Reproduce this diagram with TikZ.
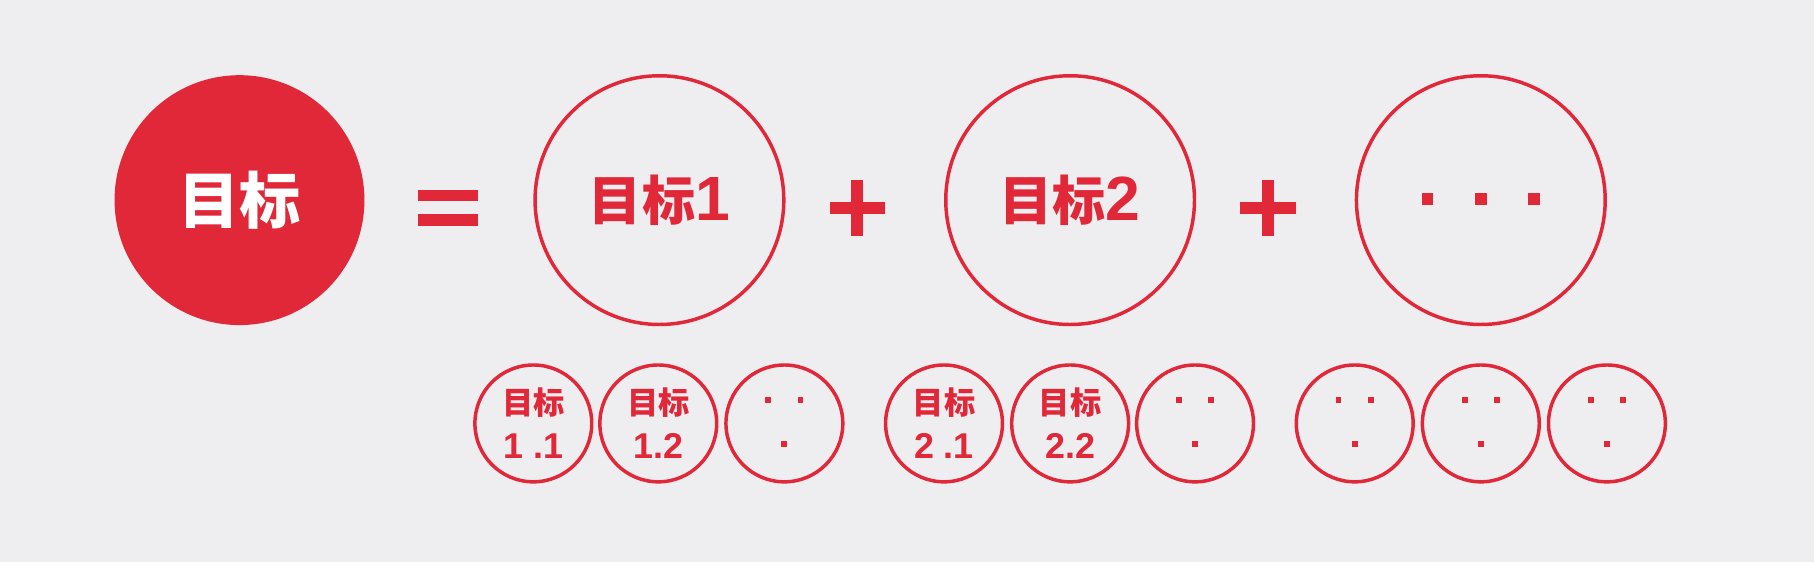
\documentclass[tikz,border=0pt]{standalone}
\usepackage{fontspec}
\newfontfamily\cjk{Noto Sans CJK SC}
\newfontfamily\lat{Liberation Sans}
\definecolor{goalred}{RGB}{224,40,57}
\definecolor{paper}{RGB}{238,237,240}
\newcommand\bignum[1]{{\lat\bfseries\fontsize{54}{54}\selectfont #1}}
\newcommand\subnum[1]{{\lat\bfseries\fontsize{31}{31}\selectfont #1}}
\tikzset{
  goalfill/.style={circle, fill=goalred, minimum size=216pt, inner sep=0pt,
    text=white, font=\cjk\bfseries\fontsize{53}{60}\selectfont},
  goalring/.style={circle, draw=goalred, line width=3pt, minimum size=215pt, inner sep=0pt,
    text=goalred, font=\cjk\bfseries\fontsize{46}{52}\selectfont},
  subring/.style={circle, draw=goalred, line width=3pt, minimum size=101pt, inner sep=0pt,
    text=goalred, align=center, font=\cjk\bfseries\fontsize{27}{38}\selectfont},
  bar/.style={fill=goalred, draw=none}
}
\begin{document}
\begin{tikzpicture}[x=1pt,y=1pt]
                \useasboundingbox (0,0) rectangle (1568,486);
                \fill [paper] (0,0) rectangle (1568,486);

                % Drawing goal and its parts
                \node [goalfill] (goal) at (207,313) {目标};
                \node [goalring] (goalA) at (570,313) {目标\bignum{1}};
                \node [goalring] (goalB) at (925,313) {目标\bignum{2}};
                \node [goalring] (goalC) at (1280,313) {};

                % Drawing equal sign
                \fill [bar] (361,312) rectangle (413,322);%
                \fill [bar] (361,291) rectangle (413,301);%

                % Drawing plus signs
                \fill [bar] (717,301) rectangle (765,311);%
                \fill [bar] (736,282) rectangle (746,330);%
                \fill [bar] (1072,301) rectangle (1120,311);%
                \fill [bar] (1091,282) rectangle (1101,330);%

                % Marking dots in goal C
                \fill [bar] (1229,309) rectangle (1239,319);%
                \fill [bar] (1275,309) rectangle (1285,319);%
                \fill [bar] (1321,309) rectangle (1331,319);%

                % Drawing sub goals of goal 1
                \node [subring] (subA1) at (461,120) {目标\\\subnum{1 .1}};
                \node [subring] (subA2) at (569,120) {目标\\\subnum{1.2}};
                \node [subring] (subA3) at (678,120) {};

                % Drawing sub goals of goal 2
                \node [subring] (subB1) at (816,120) {目标\\\subnum{2 .1}};
                \node [subring] (subB2) at (925,120) {目标\\\subnum{2.2}};
                \node [subring] (subB3) at (1033,120) {};

                % Drawing sub goals of the rest
                \node [subring] (subC1) at (1171,120) {};
                \node [subring] (subC2) at (1280,120) {};
                \node [subring] (subC3) at (1389,120) {};

                % Marking dots in open sub goals
                \fill [bar] ([shift={(-16.5,17.5)}]subA3.center) rectangle +(5,5);%
                \fill [bar] ([shift={(11.5,17.5)}]subA3.center) rectangle +(5,5);%
                \fill [bar] ([shift={(-2.5,-20.5)}]subA3.center) rectangle +(5,5);%
                \fill [bar] ([shift={(-16.5,17.5)}]subB3.center) rectangle +(5,5);%
                \fill [bar] ([shift={(11.5,17.5)}]subB3.center) rectangle +(5,5);%
                \fill [bar] ([shift={(-2.5,-20.5)}]subB3.center) rectangle +(5,5);%
                \fill [bar] ([shift={(-16.5,17.5)}]subC1.center) rectangle +(5,5);%
                \fill [bar] ([shift={(11.5,17.5)}]subC1.center) rectangle +(5,5);%
                \fill [bar] ([shift={(-2.5,-20.5)}]subC1.center) rectangle +(5,5);%
                \fill [bar] ([shift={(-16.5,17.5)}]subC2.center) rectangle +(5,5);%
                \fill [bar] ([shift={(11.5,17.5)}]subC2.center) rectangle +(5,5);%
                \fill [bar] ([shift={(-2.5,-20.5)}]subC2.center) rectangle +(5,5);%
                \fill [bar] ([shift={(-16.5,17.5)}]subC3.center) rectangle +(5,5);%
                \fill [bar] ([shift={(11.5,17.5)}]subC3.center) rectangle +(5,5);%
                \fill [bar] ([shift={(-2.5,-20.5)}]subC3.center) rectangle +(5,5);%
\end{tikzpicture}
\end{document}
